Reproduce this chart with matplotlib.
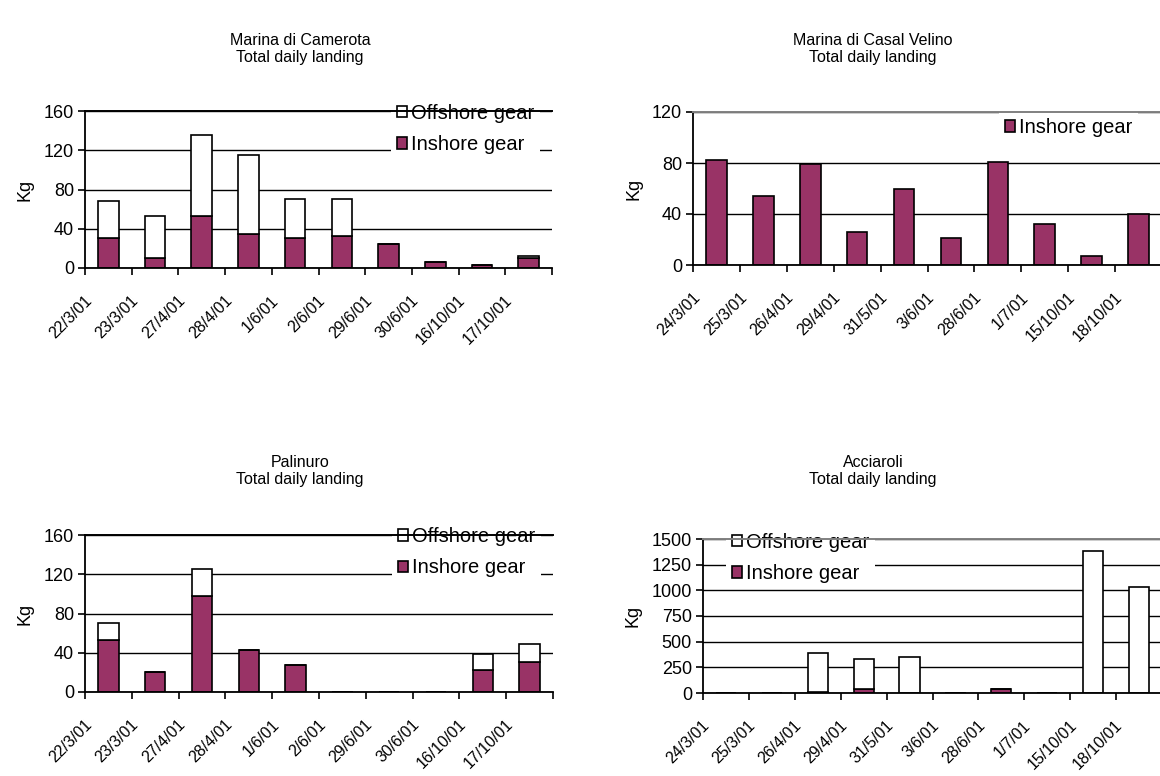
import numpy as np
import matplotlib.pyplot as plt
from matplotlib.patches import Patch
from matplotlib.transforms import ScaledTranslation

plt.rcParams['font.family'] = ['Liberation Sans', 'DejaVu Sans']

# ── data ─────────────────────────────────────────────────────────────────────
dates_south = ['22/3/01', '23/3/01', '27/4/01', '28/4/01', '1/6/01',
               '2/6/01', '29/6/01', '30/6/01', '16/10/01', '17/10/01']
dates_north = ['24/3/01', '25/3/01', '26/4/01', '29/4/01', '31/5/01',
               '3/6/01', '28/6/01', '1/7/01', '15/10/01', '18/10/01']

camerota_inshore = [31, 10, 53, 35, 31, 33, 24, 6, 3, 10]
camerota_offshore = [37, 43, 83, 80, 39, 37, 0, 0, 0, 2]

velino_inshore = [82, 54, 79, 26, 60, 21, 81, 32, 7, 40]

palinuro_inshore = [53, 20, 98, 43, 28, 0, 0, 0, 22, 31]
palinuro_offshore = [17, 0, 27, 0, 0, 0, 0, 0, 17, 18]

acciaroli_inshore = [0, 0, 10, 35, 0, 0, 38, 0, 0, 0]
acciaroli_offshore = [0, 0, 380, 300, 355, 0, 0, 0, 1385, 1030]

INSHORE = '#993366'
W, H = 1160, 776
BAR_W = 0.44


def px_rect(left, top, right, bottom):
    """Pixel box (from top-left of the figure) -> figure fraction rect."""
    return [left / W, 1 - bottom / H, (right - left) / W, (bottom - top) / H]


fig = plt.figure(figsize=(W / 100, H / 100), dpi=100)


def panel(rect, dates, inshore, offshore, yticks, title, title_x, title_y,
          legend_anchor, top_color):
    ax = fig.add_axes(rect)
    x = np.arange(len(dates))
    ax.bar(x, inshore, width=BAR_W, color=INSHORE, edgecolor='black',
           linewidth=1.2, zorder=2)
    handles = [Patch(facecolor=INSHORE, edgecolor='black', lw=1.2,
                     label='Inshore gear')]
    if offshore is not None:
        ax.bar(x, offshore, bottom=inshore, width=BAR_W, color='white',
               edgecolor='black', linewidth=1.2, zorder=2)
        handles.insert(0, Patch(facecolor='white', edgecolor='black', lw=1.2,
                                label='Offshore gear'))

    ax.set_xlim(-0.5, len(dates) - 0.5)
    ax.set_ylim(yticks[0], yticks[-1])
    ax.set_yticks(yticks)
    ax.set_axisbelow(True)
    ax.yaxis.grid(True, color='black', lw=1.0)

    # ticks on category borders, labels in the middle
    ax.set_xticks(np.arange(len(dates) + 1) - 0.5)
    ax.set_xticklabels([])
    ax.set_xticks(x, dates, minor=True)
    ax.tick_params(axis='x', which='major', direction='out', length=5,
                   width=1.2)
    ax.tick_params(axis='x', which='minor', length=0, pad=0, labelsize=11.5)
    ax.tick_params(axis='y', direction='out', length=5, width=1.2,
                   labelsize=13, pad=3)
    shift = ScaledTranslation(-0.19, -0.30, fig.dpi_scale_trans)
    for lab in ax.get_xticklabels(minor=True):
        lab.set_rotation(45)
        lab.set_ha('right')
        lab.set_va('center')
        lab.set_rotation_mode('anchor')
        lab.set_transform(lab.get_transform() + shift)

    for side in ('left', 'bottom'):
        ax.spines[side].set_linewidth(1.3)
    ax.spines['right'].set_visible(False)
    ax.spines['top'].set_color(top_color)
    ax.spines['top'].set_linewidth(1.4)
    ax.spines['top'].set_zorder(6)

    ax.set_ylabel('Kg', fontsize=13, labelpad=7)

    leg = ax.legend(handles=handles, loc='upper left',
                    bbox_to_anchor=legend_anchor, frameon=True,
                    facecolor='white', edgecolor='none', framealpha=1,
                    fancybox=False, borderpad=0.3, borderaxespad=0,
                    labelspacing=0.62, handletextpad=0.2,
                    handlelength=0.5, handleheight=0.5, fontsize=14.5)
    leg.set_zorder(5)

    fig.text(title_x / W, 1 - title_y / H, title, ha='center', va='center',
             fontsize=11.5, linespacing=1.2)
    return ax


panel(px_rect(85, 111, 552, 268), dates_south, camerota_inshore,
      camerota_offshore, [0, 40, 80, 120, 160],
      'Marina di Camerota\nTotal daily landing', 300, 49,
      (0.655, 1.085), 'black')

panel(px_rect(693, 112, 1162, 265), dates_north, velino_inshore, None,
      [0, 40, 80, 120],
      'Marina di Casal Velino\nTotal daily landing', 873, 49,
      (0.652, 1.0), '#808080')

panel(px_rect(85, 535, 553, 692), dates_south, palinuro_inshore,
      palinuro_offshore, [0, 40, 80, 120, 160],
      'Palinuro\nTotal daily landing', 300, 471,
      (0.655, 1.09), 'black')

panel(px_rect(703, 539, 1162, 693), dates_north, acciaroli_inshore,
      acciaroli_offshore, [0, 250, 500, 750, 1000, 1250, 1500],
      'Acciaroli\nTotal daily landing', 873, 471,
      (0.05, 1.08), '#808080')

fig.savefig('out.png', dpi=100)
